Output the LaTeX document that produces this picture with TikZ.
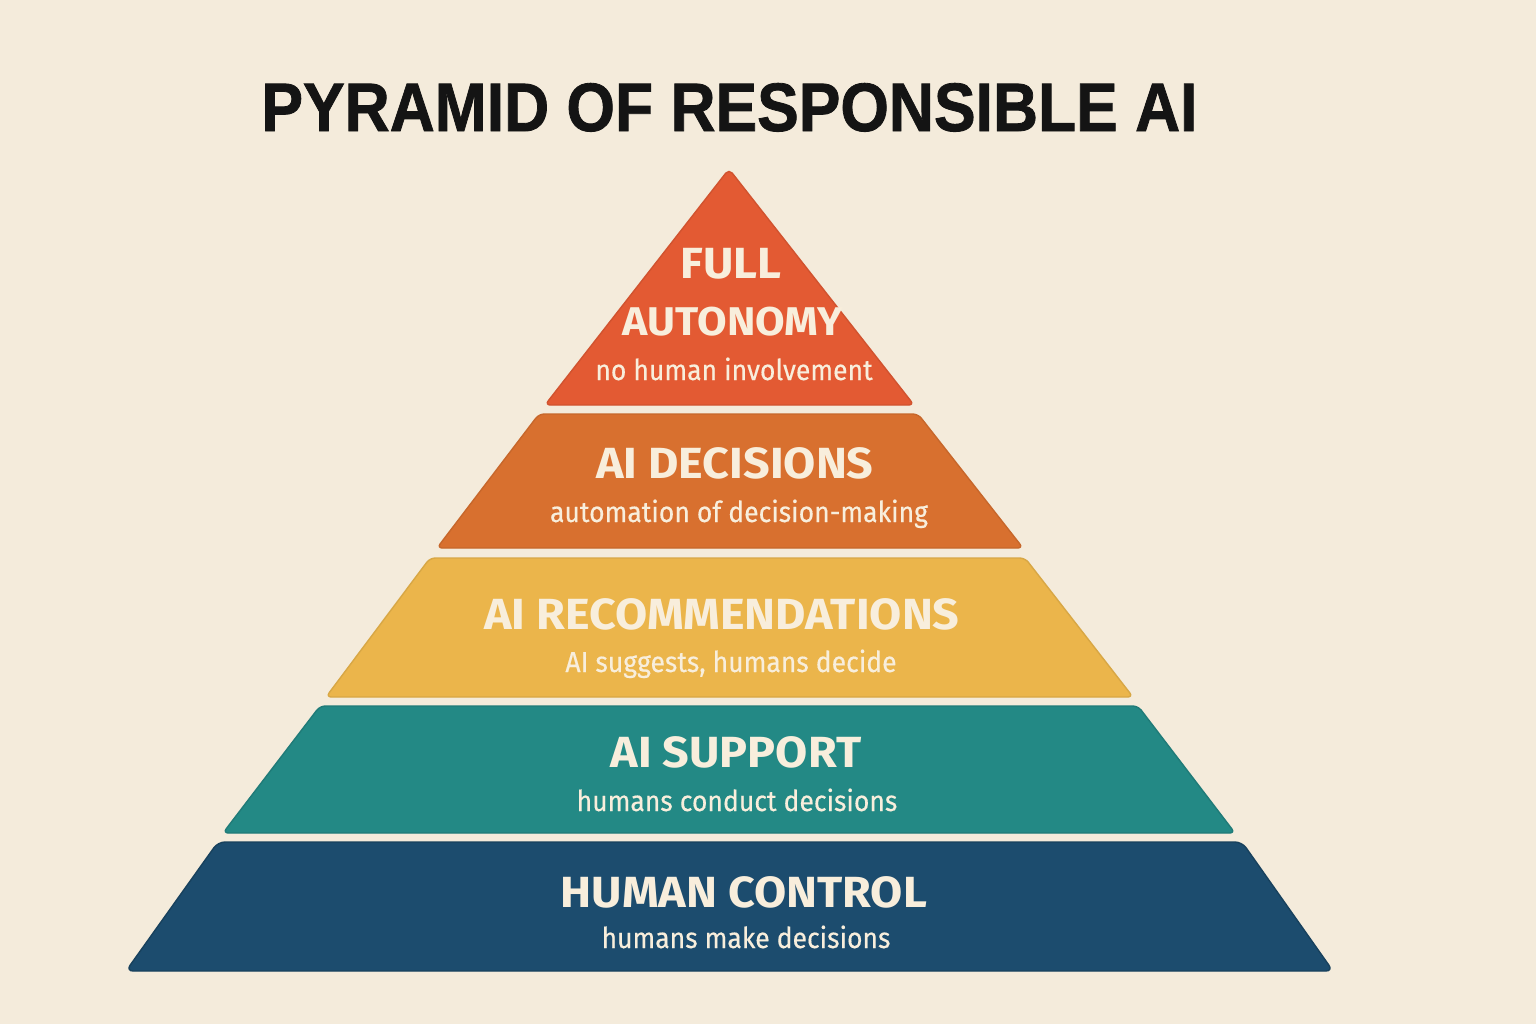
\documentclass[tikz,border=0pt]{standalone}
\usepackage{fontspec}
\setmainfont{Fira Sans}
\newfontfamily\titlefont[FakeBold=1.2]{Liberation Sans}
\newfontfamily\headfont[FakeStretch=1.07]{Fira Sans}
\newfontfamily\subfont[FakeStretch=0.92,FakeBold=0.4]{Fira Sans}
\usepackage{graphicx}

\definecolor{paper}{HTML}{F4EBDB}
\definecolor{cream}{HTML}{F8EEDC}
\definecolor{ink}{HTML}{141414}
\definecolor{autored}{HTML}{E35A33}
\definecolor{decorange}{HTML}{D8702F}
\definecolor{recyellow}{HTML}{EBB54B}
\definecolor{supteal}{HTML}{238985}
\definecolor{ctrlnavy}{HTML}{1C4C6E}

\begin{document}
\begin{tikzpicture}[x=0.01cm,y=-0.01cm,
    band/.style={line width=0.4pt, rounded corners=1.5pt},
    head/.style={text=cream, font=\headfont\fontsize{12.4}{14}\selectfont\bfseries, inner sep=0pt, anchor=base},
    sub/.style={text=cream, font=\subfont\fontsize{8.2}{10}\selectfont, inner sep=0pt, anchor=base}]

      % background
      \fill[paper] (0,0) rectangle (1536,1024);
      \useasboundingbox (0,0) rectangle (1536,1024);

      \node[font=\titlefont\fontsize{19.5}{22}\selectfont\bfseries, text=ink, inner sep=0pt, anchor=base]
            (title) at (729.5,131) {\scalebox{0.91}[1]{PYRAMID OF RESPONSIBLE AI}};

      % layers, top to bottom
      \filldraw[band, fill=autored, draw=autored!92!black]
            (729,169) -- (914,405) -- (545,405) -- cycle;
      \filldraw[band, fill=decorange, draw=decorange!92!black]
            (539,414) -- (918,414) -- (1023,548) -- (437,548) -- cycle;
      \filldraw[band, fill=recyellow, draw=recyellow!92!black]
            (430,558) -- (1025,558) -- (1133,697) -- (326,697) -- cycle;
      \filldraw[band, fill=supteal, draw=supteal!90!black]
            (320,706) -- (1138,706) -- (1235,833) -- (223,833) -- cycle;
      \filldraw[band, rounded corners=2pt, fill=ctrlnavy, draw=ctrlnavy!85!black]
            (218,842) -- (1242,842) -- (1333,971) -- (126,971) -- cycle;

      \node[head] (full)     at (731,278) {FULL};
      \node[head, font=\headfont\fontsize{11.4}{13}\selectfont\bfseries]
                  (autonomy) at (733,335) {AUTONOMY};
      \node[sub]  (nohuman)  at (734,380) {no human involvement};

      \node[head] (aidec)    at (735,478) {AI DECISIONS};
      \node[sub]  (automat)  at (739,522) {automation of decision-making};

      \node[head] (airec)    at (722,629) {AI RECOMMENDATIONS};
      \node[sub]  (suggests) at (731,672) {AI suggests, humans decide};

      \node[head] (aisup)    at (736,767) {AI SUPPORT};
      \node[sub]  (conduct)  at (737,811) {humans conduct decisions};

      \node[head] (humctrl)  at (744,907) {HUMAN CONTROL};
      \node[sub]  (make)     at (746,948) {humans make decisions};
    \end{tikzpicture}
\end{document}
